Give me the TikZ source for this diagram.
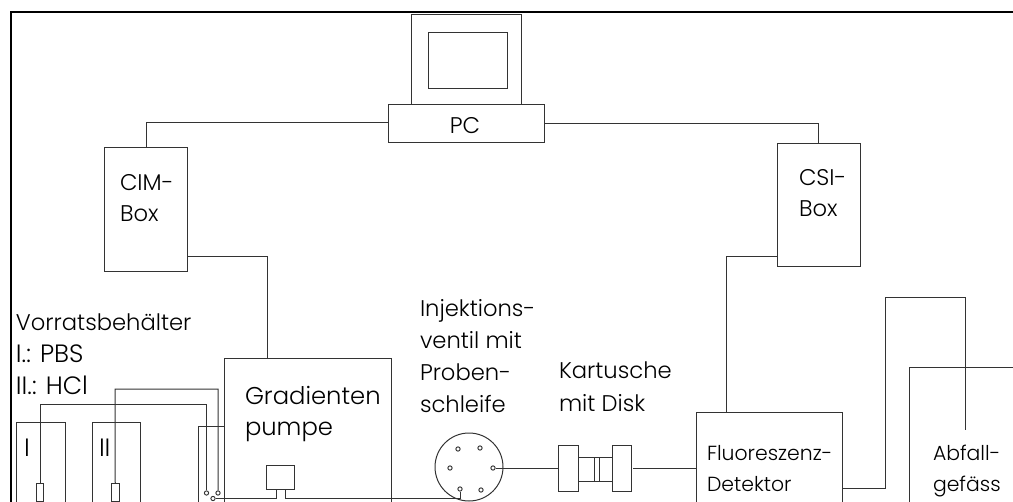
\documentclass[tikz,border=0pt]{standalone}
\usepackage{fontspec}
\setmainfont{Poppins Light}
\newcommand{\bx}[5]{\node[boxn,minimum width={(#4-#2)*0.75pt},minimum height={(#5-#3)*0.75pt}] (#1) at ({(#2+#4)/2},{(#3+#5)/2}) {};}
\tikzset{
  boxn/.style={draw=ln,line width=0.75pt,inner sep=0pt,outer sep=0pt},
  wire/.style={draw=ln,line width=0.75pt},
  port/.style={circle,draw=ln,line width=0.7pt,fill=white,inner sep=0pt,minimum size=3.2pt},
  lab/.style={anchor=base west,inner sep=0pt,outer sep=0pt,text=black,font=\fontsize{17}{20}\selectfont},
  labc/.style={lab,anchor=base},
  labg/.style={lab,font=\fontsize{18.2}{21}\selectfont},
  labk/.style={lab,font=\fontsize{18.8}{22}\selectfont},
  labs/.style={lab,font=\fontsize{15.3}{18}\selectfont}
}
\definecolor{ln}{gray}{0.2}
\begin{document}
\begin{tikzpicture}[x=0.75pt,y=-0.75pt]
\useasboundingbox (0,0) rectangle (1013,502);
\clip (0,0) rectangle (1013,502);
\draw[black,line width=1.6pt,line cap=rect] (11,510) -- (11,12) -- (1020,12);
% computer
\bx{mon}{411.5}{15}{521.5}{105}
\bx{scr}{428}{33}{507}{89}
\bx{pc}{388.5}{105}{544.5}{143}
\node[labc] (pclab) at (465,134) {PC};
% interface boxes
\bx{cim}{104}{148}{187}{271}
\bx{csi}{777}{144}{860}{267}
\coordinate (cimtop) at (146,123);
\coordinate (csitop) at (818,124);
\draw[wire] (pc.west |- cimtop) -- (cimtop) -- (cimtop |- cim.north);
\draw[wire] (pc.east |- csitop) -- (csitop) -- (csitop |- csi.north);
% pump
\bx{grad}{224}{358}{391}{530}
\bx{pump}{266}{465}{294}{489}
\coordinate (c1) at (267,257);
\draw[wire] (cim.east |- c1) -- (c1) -- (c1 |- grad.north);
% detector
\bx{det}{696.5}{412}{842}{530}
\coordinate (c2) at (726,257);
\draw[wire] (csi.west |- c2) -- (c2) -- (c2 |- det.north);
% vessels
\bx{vI}{16.5}{422}{65}{530}
\bx{vII}{92}{422}{140}{530}
\bx{tI}{36.5}{483}{43.5}{501}
\bx{tII}{111.5}{483}{119}{501}
\node[labk] (lI) at (24,456) {I};
\node[labk] (lII) at (99,456) {II};
\coordinate (v3a) at (198,530);
\coordinate (v3b) at (198,426);
\draw[wire] (v3a) -- (v3b) -- (v3b -| grad.west);
% valves
\node[port] (pa) at (206.5,493) {};
\node[port] (pb) at (218,493) {};
\node[port] (pc3) at (213,498.5) {};
\coordinate (w1) at (40,404);
\coordinate (w2) at (115,389);
\draw[wire] (tI.north) -- (w1) -- (w1 -| pa) -- (pa.north);
\draw[wire] (tII.north) -- (w2) -- (w2 -| pb) -- (pb.north);
% injection valve
\node[circle,draw=ln,line width=0.75pt,inner sep=0pt,minimum size=51pt] (inj) at (469,467) {};
\node[port] (i1) at (458,449) {};
\node[port] (i2) at (480,448) {};
\node[port] (i3) at (450,468) {};
\node[port] (i4) at (493,468) {};
\node[port] (i5) at (460,489) {};
\node[port] (i6) at (481,490) {};
\coordinate (p1) at (276,498.5);
\coordinate (p2) at (285,498.5);
\draw[wire] (pc3) -- (p1) -- (p1 |- pump.south);
\draw[wire] (pump.south -| p2) -- (p2) -- (i5 |- p2) -- (i5.south);
% cartridge
\bx{kl}{558.5}{445}{578}{491}
\bx{kr}{612}{445}{631.5}{491}
\bx{km}{578}{457}{612}{481}
\bx{disk}{594.5}{457}{599}{481}
\draw[wire] (i4.east) -- (kl.west |- i4);
\coordinate (k3) at (633,468);
\draw[wire] (k3) -- (k3 -| det.west);
% waste
\coordinate (d1) at (885,488);
\coordinate (d2) at (885,297);
\coordinate (d3) at (965,297);
\coordinate (d4) at (965,430);
\draw[wire] (det.east |- d1) -- (d1) -- (d2) -- (d3) -- (d4);
\coordinate (e1) at (1013,367);
\coordinate (e2) at (909,367);
\coordinate (e3) at (909,510);
\draw[wire] (e1) -- (e2) -- (e3);
% labels
\node[lab] (t1) at (16,330) {Vorratsbehälter};
\node[labk] (t2) at (16,362) {I.: PBS};
\node[labk] (t3) at (16,394) {II.: HCl};
\node[lab] (t4) at (120,191) {CIM-};
\node[lab] (t5) at (120,222) {Box};
\node[lab] (t6) at (799,186) {CSI-};
\node[lab] (t7) at (799,217) {Box};
\node[lab] (t8) at (420,316) {Injektions-};
\node[lab] (t9) at (420,348) {ventil mit};
\node[lab] (t10) at (420,380) {Proben-};
\node[lab] (t11) at (420,412) {schleife};
\node[lab] (t12) at (559,378) {Kartusche};
\node[lab] (t13) at (559,411) {mit Disk};
\node[labg] (t14) at (245,404) {Gradienten};
\node[labg] (t15) at (245,435) {pumpe};
\node[labs] (t16) at (707,460) {Fluoreszenz-};
\node[labs] (t17) at (707,491) {Detektor};
\node[labs] (t18) at (933,460) {Abfall-};
\node[labs] (t19) at (933,491) {gefäss};
\end{tikzpicture}
\end{document}
